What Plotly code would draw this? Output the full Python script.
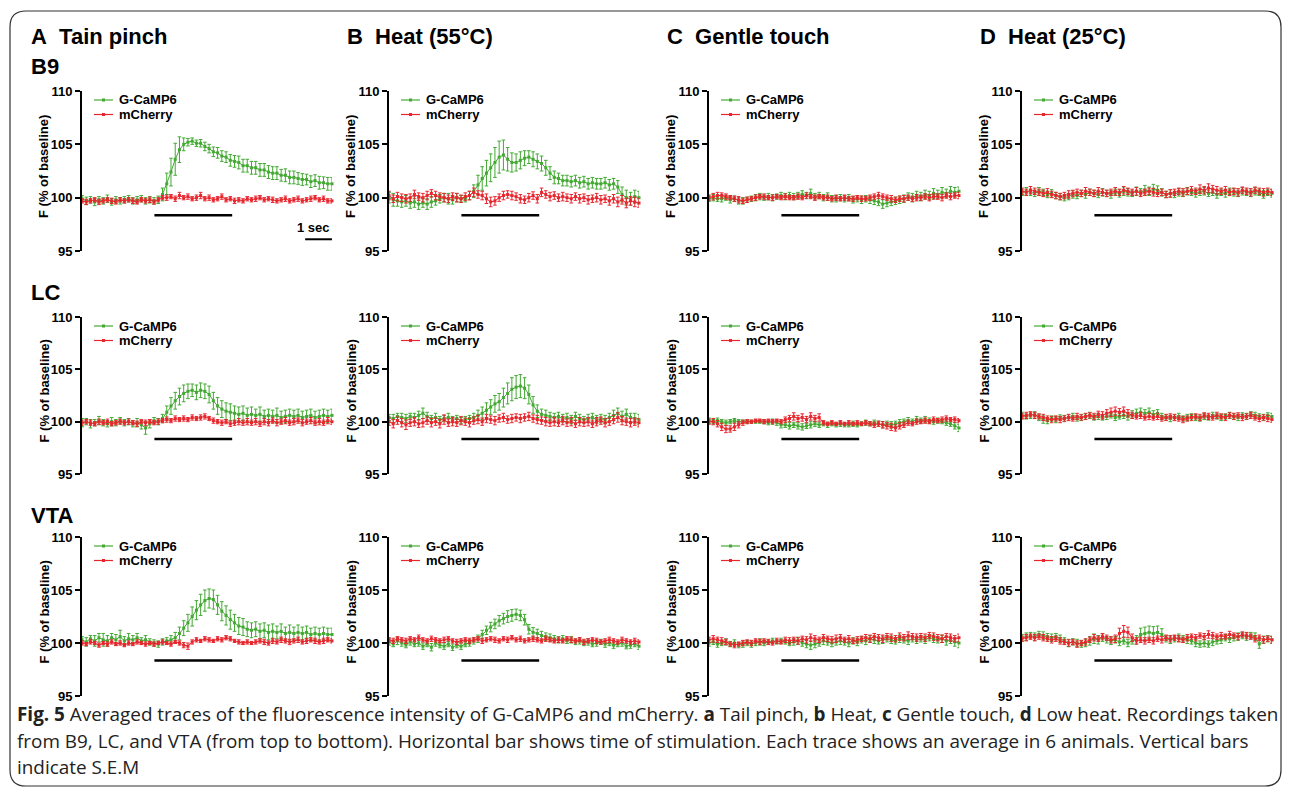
import plotly.graph_objects as go

# Page is 1290x799; the default 8px body margin surrounds the figure.
PAGE_W, PAGE_H, BODY_MARGIN = 1290, 799, 8
W, H = PAGE_W - 2 * BODY_MARGIN, PAGE_H - 2 * BODY_MARGIN

N = 60
DT = 0.158  # seconds per sample
TIME = [round(i * DT, 3) for i in range(N)]
STIM_ON, STIM_OFF, STIM_LEVEL = 2.7, 5.6, 98.35
SCALE_X0, SCALE_X1, SCALE_LEVEL = 8.32, 9.32, 96.1

LETTERS = ["A", "B", "C", "D"]
STIMULI = ["Tain pinch", "Heat (55°C)", "Gentle touch", "Heat (25°C)"]
REGIONS = ["B9", "LC", "VTA"]
Y_TICKS = [95, 100, 105, 110]
SERIES = ["G-CaMP6", "mCherry"]

# ---------------- B9 ----------------
B9_TAIL_G = [99.9, 99.7, 99.8, 99.6, 99.8, 99.7, 99.9, 99.6, 99.8, 99.7,
             99.8, 99.9, 99.7, 99.8, 99.9, 99.7, 99.8, 99.7, 99.8, 100.3,
             101.3, 102.4, 103.6, 104.5, 105.0, 105.2, 105.3, 105.1, 105.1, 104.8,
             104.6, 104.3, 104.2, 103.9, 103.8, 103.5, 103.4, 103.3, 103.0, 103.0,
             102.8, 102.8, 102.6, 102.6, 102.4, 102.3, 102.3, 102.1, 102.1, 101.9,
             101.9, 101.8, 101.7, 101.7, 101.5, 101.6, 101.4, 101.4, 101.3, 101.3]
B9_TAIL_G_SEM = [0.30, 0.35, 0.30, 0.35, 0.30, 0.30, 0.35, 0.30, 0.30, 0.30,
                 0.30, 0.30, 0.30, 0.30, 0.30, 0.30, 0.30, 0.30, 0.35, 0.60,
                 1.00, 1.30, 1.50, 1.20, 0.60, 0.35, 0.30, 0.30, 0.35, 0.40,
                 0.40, 0.45, 0.50, 0.50, 0.50, 0.55, 0.55, 0.60, 0.60, 0.60,
                 0.60, 0.60, 0.60, 0.60, 0.60, 0.60, 0.60, 0.55, 0.60, 0.60,
                 0.60, 0.55, 0.55, 0.50, 0.55, 0.55, 0.60, 0.55, 0.60, 0.60]
B9_TAIL_R = [99.7, 99.6, 99.7, 99.8, 99.6, 99.7, 99.8, 99.7, 99.6, 99.8,
             99.7, 99.8, 99.7, 99.6, 99.8, 99.7, 99.8, 99.6, 99.8, 100.0,
             100.0, 100.1, 99.9, 100.2, 100.0, 100.1, 99.9, 100.0, 100.2, 99.9,
             100.0, 99.8, 99.9, 100.1, 99.8, 99.9, 99.7, 99.8, 99.7, 99.9,
             99.8, 99.9, 100.0, 99.8, 99.9, 99.8, 99.7, 99.8, 99.9, 99.7,
             99.8, 99.9, 99.7, 99.8, 99.9, 100.0, 99.8, 99.9, 99.7, 99.7]
B9_TAIL_R_SEM = [0.20, 0.25, 0.20, 0.20, 0.25, 0.20, 0.20, 0.25, 0.20, 0.20,
                 0.20, 0.20, 0.25, 0.20, 0.20, 0.20, 0.25, 0.20, 0.20, 0.20,
                 0.25, 0.20, 0.25, 0.30, 0.20, 0.25, 0.20, 0.25, 0.30, 0.20,
                 0.25, 0.20, 0.20, 0.25, 0.20, 0.20, 0.25, 0.20, 0.20, 0.20,
                 0.20, 0.25, 0.20, 0.20, 0.20, 0.25, 0.20, 0.20, 0.25, 0.20,
                 0.20, 0.25, 0.20, 0.20, 0.25, 0.20, 0.20, 0.25, 0.20, 0.20]

B9_HEAT55_G = [100.0, 99.8, 99.7, 99.6, 99.7, 99.5, 99.6, 99.4, 99.5, 99.4,
               99.6, 99.7, 99.9, 100.0, 99.9, 99.8, 100.0, 99.9, 99.9, 100.2,
               100.6, 101.2, 101.8, 102.3, 102.8, 103.3, 103.8, 104.0, 103.6, 103.3,
               103.3, 103.5, 103.7, 103.8, 103.6, 103.4, 103.2, 102.8, 102.3, 101.9,
               101.8, 101.6, 101.6, 101.5, 101.6, 101.4, 101.5, 101.3, 101.4, 101.3,
               101.3, 101.4, 101.2, 101.3, 101.0, 100.3, 100.0, 99.9, 100.1, 100.0]
B9_HEAT55_G_SEM = [0.5, 0.6, 0.5, 0.5, 0.5, 0.5, 0.5, 0.5, 0.4, 0.5,
                   0.5, 0.4, 0.4, 0.4, 0.5, 0.4, 0.4, 0.3, 0.3, 0.4,
                   0.6, 0.9, 1.1, 1.2, 1.3, 1.4, 1.5, 1.4, 1.1, 0.9,
                   0.8, 0.8, 0.7, 0.6, 0.7, 0.7, 0.7, 0.7, 0.6, 0.6,
                   0.5, 0.5, 0.5, 0.5, 0.5, 0.5, 0.5, 0.5, 0.5, 0.5,
                   0.5, 0.5, 0.5, 0.5, 0.6, 0.7, 0.7, 0.6, 0.6, 0.6]
B9_HEAT55_R = [100.2, 99.9, 100.1, 100.0, 99.9, 100.0, 100.3, 100.1, 100.0, 100.2,
               100.4, 100.2, 100.1, 100.0, 99.9, 100.1, 100.0, 99.9, 100.1, 100.2,
               100.5, 100.3, 100.2, 99.9, 99.6, 99.7, 100.0, 100.2, 100.3, 100.2,
               100.1, 99.9, 99.8, 100.0, 100.2, 99.9, 100.5, 100.3, 100.1, 100.2,
               100.0, 100.1, 100.0, 99.9, 100.1, 99.9, 100.0, 99.8, 99.9, 100.0,
               99.8, 99.9, 99.7, 99.9, 99.6, 99.8, 99.5, 99.7, 99.6, 99.5]
B9_HEAT55_R_SEM = [0.40, 0.35, 0.40, 0.35, 0.40, 0.35, 0.40, 0.35, 0.40, 0.40,
                   0.35, 0.40, 0.35, 0.40, 0.35, 0.35, 0.40, 0.35, 0.35, 0.40,
                   0.40, 0.35, 0.40, 0.45, 0.45, 0.40, 0.35, 0.40, 0.35, 0.40,
                   0.35, 0.40, 0.35, 0.40, 0.35, 0.40, 0.40, 0.35, 0.40, 0.35,
                   0.35, 0.40, 0.35, 0.40, 0.35, 0.40, 0.35, 0.40, 0.35, 0.40,
                   0.40, 0.35, 0.40, 0.40, 0.45, 0.40, 0.45, 0.40, 0.45, 0.40]

B9_TOUCH_G = [99.9, 100.0, 99.9, 99.9, 100.0, 99.8, 99.9, 99.7, 99.7, 99.8,
              99.9, 100.0, 100.1, 100.0, 100.1, 100.0, 100.1, 100.2, 100.1, 100.2,
              100.1, 100.2, 100.3, 100.2, 100.4, 100.1, 100.2, 100.0, 100.1, 99.9,
              99.9, 100.0, 99.9, 100.0, 99.8, 99.9, 99.8, 99.9, 99.8, 99.7,
              99.6, 99.4, 99.5, 99.6, 99.7, 99.8, 99.9, 100.1, 100.0, 100.2,
              100.1, 100.3, 100.2, 100.4, 100.3, 100.5, 100.4, 100.6, 100.5, 100.6]
B9_TOUCH_G_SEM = [0.25, 0.30, 0.25, 0.30, 0.25, 0.30, 0.25, 0.30, 0.30, 0.25,
                  0.25, 0.30, 0.30, 0.25, 0.30, 0.30, 0.25, 0.30, 0.30, 0.30,
                  0.30, 0.30, 0.35, 0.30, 0.40, 0.30, 0.30, 0.30, 0.35, 0.30,
                  0.30, 0.30, 0.30, 0.30, 0.30, 0.30, 0.35, 0.30, 0.35, 0.35,
                  0.35, 0.40, 0.35, 0.35, 0.35, 0.35, 0.35, 0.35, 0.40, 0.40,
                  0.40, 0.40, 0.40, 0.45, 0.40, 0.45, 0.40, 0.45, 0.45, 0.40]
B9_TOUCH_R = [100.0, 100.1, 100.2, 100.2, 100.1, 100.0, 99.9, 99.8, 99.7, 99.8,
              99.9, 100.0, 100.1, 100.1, 100.0, 100.0, 100.1, 100.0, 100.1, 100.0,
              100.0, 100.1, 100.0, 100.2, 100.1, 100.0, 100.1, 100.0, 100.0, 99.9,
              100.0, 99.9, 100.0, 99.9, 99.9, 100.0, 99.9, 99.9, 100.0, 100.1,
              100.2, 100.1, 100.0, 99.9, 99.8, 99.9, 99.9, 100.0, 99.9, 100.0,
              100.0, 100.1, 100.0, 100.1, 100.1, 100.0, 100.2, 100.1, 100.2, 100.2]
B9_TOUCH_R_SEM = [0.25, 0.30, 0.30, 0.25, 0.25, 0.20, 0.25, 0.30, 0.25, 0.25,
                  0.20, 0.25, 0.20, 0.25, 0.20, 0.25, 0.20, 0.20, 0.25, 0.20,
                  0.20, 0.25, 0.20, 0.25, 0.20, 0.25, 0.20, 0.20, 0.25, 0.20,
                  0.25, 0.20, 0.25, 0.20, 0.25, 0.20, 0.25, 0.20, 0.25, 0.25,
                  0.30, 0.25, 0.25, 0.30, 0.25, 0.25, 0.30, 0.25, 0.25, 0.30,
                  0.25, 0.25, 0.30, 0.25, 0.25, 0.30, 0.25, 0.30, 0.25, 0.30]

B9_HEAT25_G = [100.5, 100.6, 100.5, 100.4, 100.6, 100.5, 100.3, 100.4, 100.2, 100.1,
               100.0, 100.1, 100.3, 100.2, 100.4, 100.3, 100.5, 100.4, 100.3, 100.5,
               100.4, 100.3, 100.5, 100.4, 100.6, 100.5, 100.4, 100.6, 100.5, 100.7,
               100.6, 100.8, 100.7, 100.5, 100.3, 100.4, 100.3, 100.5, 100.4, 100.6,
               100.5, 100.4, 100.5, 100.6, 100.4, 100.5, 100.3, 100.5, 100.4, 100.6,
               100.5, 100.4, 100.6, 100.5, 100.4, 100.6, 100.5, 100.3, 100.5, 100.4]
B9_HEAT25_G_SEM = [0.30, 0.35, 0.30, 0.30, 0.35, 0.30, 0.30, 0.35, 0.30, 0.30,
                   0.30, 0.30, 0.35, 0.30, 0.30, 0.35, 0.30, 0.30, 0.30, 0.35,
                   0.30, 0.35, 0.30, 0.35, 0.40, 0.35, 0.30, 0.40, 0.35, 0.45,
                   0.40, 0.45, 0.40, 0.35, 0.30, 0.35, 0.30, 0.35, 0.30, 0.35,
                   0.30, 0.35, 0.30, 0.35, 0.30, 0.30, 0.35, 0.30, 0.35, 0.30,
                   0.35, 0.30, 0.35, 0.30, 0.30, 0.35, 0.30, 0.35, 0.30, 0.35]
B9_HEAT25_R = [100.6, 100.5, 100.7, 100.6, 100.5, 100.4, 100.5, 100.3, 100.2, 100.1,
               100.2, 100.3, 100.4, 100.5, 100.4, 100.6, 100.5, 100.4, 100.6, 100.5,
               100.4, 100.5, 100.6, 100.5, 100.7, 100.6, 100.5, 100.6, 100.4, 100.5,
               100.6, 100.5, 100.4, 100.5, 100.3, 100.4, 100.5, 100.6, 100.5, 100.6,
               100.7, 100.6, 100.8, 100.7, 100.9, 100.8, 100.7, 100.6, 100.7, 100.5,
               100.6, 100.5, 100.7, 100.6, 100.5, 100.7, 100.6, 100.5, 100.6, 100.5]
B9_HEAT25_R_SEM = [0.30, 0.30, 0.35, 0.30, 0.30, 0.30, 0.35, 0.30, 0.30, 0.30,
                   0.30, 0.35, 0.30, 0.30, 0.30, 0.35, 0.30, 0.30, 0.35, 0.30,
                   0.30, 0.30, 0.35, 0.30, 0.35, 0.30, 0.30, 0.35, 0.30, 0.30,
                   0.30, 0.35, 0.30, 0.30, 0.30, 0.35, 0.30, 0.30, 0.35, 0.30,
                   0.35, 0.30, 0.40, 0.35, 0.40, 0.35, 0.35, 0.30, 0.35, 0.30,
                   0.30, 0.35, 0.30, 0.30, 0.35, 0.30, 0.30, 0.35, 0.30, 0.30]

# ---------------- LC ----------------
LC_TAIL_G = [99.9, 100.0, 99.8, 99.9, 100.1, 99.9, 99.8, 100.0, 99.9, 100.1,
             99.9, 100.0, 99.8, 99.9, 99.7, 99.4, 99.8, 100.1, 100.0, 100.3,
             100.9, 101.5, 102.0, 102.4, 102.7, 102.9, 103.0, 102.8, 103.0, 102.9,
             102.6, 102.0, 101.5, 101.2, 101.0, 100.9, 100.8, 100.7, 100.8, 100.6,
             100.7, 100.6, 100.7, 100.5, 100.6, 100.5, 100.6, 100.4, 100.5, 100.6,
             100.5, 100.6, 100.4, 100.5, 100.6, 100.4, 100.5, 100.6, 100.5, 100.6]
LC_TAIL_G_SEM = [0.4, 0.3, 0.4, 0.3, 0.4, 0.3, 0.3, 0.4, 0.3, 0.3,
                 0.3, 0.3, 0.3, 0.4, 0.4, 0.6, 0.4, 0.3, 0.3, 0.4,
                 0.6, 0.8, 0.8, 0.8, 0.8, 0.7, 0.6, 0.7, 0.7, 0.7,
                 0.8, 0.8, 0.8, 0.8, 0.8, 0.8, 0.7, 0.7, 0.7, 0.7,
                 0.7, 0.6, 0.7, 0.6, 0.6, 0.6, 0.7, 0.6, 0.6, 0.6,
                 0.6, 0.6, 0.6, 0.6, 0.6, 0.6, 0.6, 0.6, 0.6, 0.6]
LC_TAIL_R = [99.9, 100.0, 99.9, 99.8, 100.0, 99.9, 100.0, 99.8, 99.9, 100.0,
             99.9, 100.0, 99.9, 99.8, 100.0, 99.9, 100.0, 99.9, 100.0, 100.1,
             100.2, 100.1, 100.3, 100.2, 100.3, 100.2, 100.4, 100.3, 100.4, 100.5,
             100.3, 100.1, 100.0, 99.9, 100.0, 99.8, 99.9, 100.0, 99.9, 100.0,
             99.9, 100.0, 99.8, 100.0, 99.9, 100.1, 99.9, 100.0, 100.1, 99.9,
             100.0, 100.1, 99.9, 100.0, 100.1, 99.9, 100.0, 99.9, 100.1, 100.0]
LC_TAIL_R_SEM = [0.25, 0.20, 0.25, 0.20, 0.25, 0.20, 0.25, 0.20, 0.20, 0.25,
                 0.20, 0.25, 0.20, 0.25, 0.20, 0.25, 0.20, 0.20, 0.25, 0.20,
                 0.25, 0.20, 0.25, 0.20, 0.25, 0.20, 0.25, 0.20, 0.25, 0.25,
                 0.20, 0.25, 0.20, 0.25, 0.20, 0.25, 0.25, 0.30, 0.25, 0.30,
                 0.25, 0.30, 0.25, 0.30, 0.30, 0.25, 0.30, 0.25, 0.30, 0.25,
                 0.30, 0.25, 0.30, 0.25, 0.30, 0.25, 0.30, 0.25, 0.30, 0.25]

LC_HEAT55_G = [100.4, 100.3, 100.5, 100.4, 100.3, 100.5, 100.4, 100.6, 100.8, 100.5,
               100.3, 100.4, 100.2, 100.3, 100.4, 100.2, 100.3, 100.1, 100.2, 100.3,
               100.4, 100.6, 100.8, 101.1, 101.4, 101.7, 101.9, 102.3, 102.7, 103.1,
               103.3, 103.4, 103.2, 102.6, 101.6, 101.0, 100.7, 100.6, 100.5, 100.4,
               100.5, 100.3, 100.4, 100.2, 100.5, 100.3, 100.2, 100.3, 100.4, 100.2,
               100.3, 100.2, 100.4, 100.6, 100.8, 100.5, 100.7, 100.4, 100.3, 100.2]
LC_HEAT55_G_SEM = [0.3, 0.4, 0.3, 0.4, 0.4, 0.3, 0.4, 0.4, 0.5, 0.4,
                   0.3, 0.4, 0.3, 0.3, 0.4, 0.3, 0.3, 0.3, 0.3, 0.3,
                   0.4, 0.5, 0.6, 0.7, 0.7, 0.8, 0.8, 0.9, 1.0, 1.1,
                   1.1, 1.1, 1.0, 0.9, 0.8, 0.6, 0.5, 0.5, 0.4, 0.4,
                   0.4, 0.4, 0.4, 0.4, 0.4, 0.4, 0.3, 0.4, 0.4, 0.4,
                   0.4, 0.4, 0.4, 0.5, 0.5, 0.5, 0.5, 0.4, 0.5, 0.5]
LC_HEAT55_R = [100.0, 99.8, 100.1, 99.9, 99.7, 99.9, 100.0, 99.8, 99.9, 100.1,
               99.9, 100.0, 99.8, 100.2, 99.9, 100.0, 99.9, 100.1, 100.0, 99.9,
               100.1, 100.2, 100.0, 100.3, 100.2, 100.1, 100.3, 100.4, 100.2, 100.3,
               100.4, 100.3, 100.4, 100.5, 100.3, 100.2, 100.1, 100.0, 99.9, 100.0,
               99.9, 100.1, 99.9, 100.0, 99.8, 100.0, 99.9, 100.0, 99.8, 100.0,
               100.1, 99.9, 100.0, 100.2, 100.4, 100.1, 100.0, 99.9, 100.0, 99.9]
LC_HEAT55_R_SEM = [0.35, 0.40, 0.35, 0.40, 0.45, 0.35, 0.40, 0.35, 0.40, 0.35,
                   0.40, 0.35, 0.40, 0.45, 0.35, 0.40, 0.35, 0.40, 0.35, 0.40,
                   0.35, 0.40, 0.35, 0.40, 0.35, 0.40, 0.35, 0.40, 0.35, 0.40,
                   0.35, 0.40, 0.35, 0.40, 0.35, 0.40, 0.35, 0.40, 0.35, 0.40,
                   0.35, 0.40, 0.35, 0.40, 0.35, 0.40, 0.35, 0.40, 0.35, 0.40,
                   0.35, 0.40, 0.35, 0.40, 0.45, 0.40, 0.35, 0.40, 0.35, 0.40]

LC_TOUCH_G = [100.1, 100.0, 100.1, 100.0, 99.9, 100.0, 100.1, 100.0, 100.0, 100.0,
              100.0, 100.0, 100.0, 100.0, 99.9, 100.0, 99.9, 99.7, 99.7, 99.6,
              99.7, 99.6, 99.5, 99.6, 99.7, 99.8, 99.7, 99.8, 99.7, 99.8,
              99.7, 99.8, 99.7, 99.7, 99.8, 99.7, 99.8, 99.9, 99.8, 99.9,
              99.8, 99.7, 99.8, 99.7, 99.8, 99.9, 100.0, 100.1, 100.0, 100.2,
              100.1, 100.2, 100.1, 100.0, 100.1, 100.0, 99.9, 99.8, 99.6, 99.4]
LC_TOUCH_G_SEM = [0.25, 0.20, 0.25, 0.20, 0.25, 0.20, 0.20, 0.20, 0.15, 0.15,
                  0.15, 0.15, 0.15, 0.20, 0.20, 0.25, 0.25, 0.30, 0.25, 0.30,
                  0.25, 0.30, 0.30, 0.25, 0.30, 0.25, 0.25, 0.20, 0.25, 0.20,
                  0.20, 0.25, 0.20, 0.20, 0.25, 0.20, 0.20, 0.25, 0.20, 0.25,
                  0.25, 0.30, 0.25, 0.30, 0.25, 0.30, 0.25, 0.30, 0.25, 0.30,
                  0.25, 0.30, 0.25, 0.25, 0.25, 0.20, 0.25, 0.25, 0.30, 0.35]
LC_TOUCH_R = [100.0, 100.0, 99.8, 99.5, 99.3, 99.3, 99.5, 99.7, 99.9, 100.0,
              100.0, 100.1, 100.1, 100.0, 100.1, 100.0, 100.1, 100.0, 100.2, 100.3,
              100.5, 100.3, 100.4, 100.2, 100.5, 100.3, 100.4, 99.9, 99.8, 99.9,
              99.8, 99.9, 99.8, 99.9, 99.8, 99.9, 99.8, 99.9, 99.8, 99.7,
              99.8, 99.7, 99.6, 99.5, 99.4, 99.6, 99.7, 99.9, 99.8, 100.0,
              100.0, 100.1, 100.0, 100.2, 100.1, 100.2, 100.3, 100.2, 100.2, 100.1]
LC_TOUCH_R_SEM = [0.25, 0.30, 0.30, 0.35, 0.35, 0.30, 0.35, 0.30, 0.25, 0.20,
                  0.15, 0.15, 0.15, 0.20, 0.15, 0.20, 0.15, 0.20, 0.25, 0.30,
                  0.35, 0.30, 0.35, 0.30, 0.35, 0.30, 0.35, 0.20, 0.15, 0.20,
                  0.15, 0.20, 0.15, 0.20, 0.15, 0.20, 0.15, 0.20, 0.20, 0.25,
                  0.25, 0.30, 0.30, 0.35, 0.30, 0.30, 0.25, 0.25, 0.20, 0.25,
                  0.20, 0.25, 0.20, 0.25, 0.20, 0.25, 0.25, 0.20, 0.25, 0.20]

LC_HEAT25_G = [100.6, 100.5, 100.6, 100.7, 100.4, 100.2, 100.1, 100.3, 100.2, 100.4,
               100.3, 100.4, 100.5, 100.3, 100.4, 100.5, 100.6, 100.4, 100.5, 100.4,
               100.5, 100.6, 100.4, 100.5, 100.6, 100.5, 100.7, 100.8, 100.9, 100.8,
               100.9, 100.7, 100.8, 100.5, 100.4, 100.3, 100.4, 100.5, 100.3, 100.4,
               100.5, 100.4, 100.3, 100.5, 100.4, 100.6, 100.5, 100.4, 100.5, 100.6,
               100.5, 100.4, 100.6, 100.5, 100.7, 100.6, 100.5, 100.4, 100.6, 100.5]
LC_HEAT25_G_SEM = [0.30, 0.25, 0.30, 0.25, 0.30, 0.35, 0.30, 0.25, 0.30, 0.25,
                   0.30, 0.25, 0.30, 0.25, 0.30, 0.25, 0.30, 0.25, 0.30, 0.25,
                   0.30, 0.25, 0.30, 0.25, 0.30, 0.35, 0.35, 0.40, 0.40, 0.35,
                   0.40, 0.35, 0.35, 0.30, 0.25, 0.30, 0.25, 0.30, 0.25, 0.30,
                   0.25, 0.30, 0.25, 0.30, 0.25, 0.30, 0.25, 0.30, 0.25, 0.30,
                   0.25, 0.30, 0.25, 0.30, 0.25, 0.30, 0.25, 0.30, 0.25, 0.30]
LC_HEAT25_R = [100.5, 100.6, 100.7, 100.6, 100.5, 100.4, 100.3, 100.2, 100.3, 100.2,
               100.3, 100.4, 100.3, 100.5, 100.4, 100.5, 100.6, 100.5, 100.7, 100.6,
               100.8, 100.9, 101.0, 100.9, 101.0, 100.8, 100.6, 100.5, 100.6, 100.4,
               100.5, 100.4, 100.5, 100.3, 100.4, 100.5, 100.4, 100.3, 100.2, 100.3,
               100.4, 100.5, 100.4, 100.6, 100.5, 100.4, 100.6, 100.5, 100.4, 100.6,
               100.5, 100.6, 100.4, 100.5, 100.6, 100.4, 100.3, 100.4, 100.3, 100.2]
LC_HEAT25_R_SEM = [0.25, 0.30, 0.25, 0.30, 0.25, 0.30, 0.25, 0.30, 0.25, 0.30,
                   0.25, 0.30, 0.25, 0.30, 0.25, 0.30, 0.25, 0.30, 0.30, 0.35,
                   0.35, 0.40, 0.40, 0.35, 0.40, 0.35, 0.30, 0.25, 0.30, 0.25,
                   0.30, 0.25, 0.30, 0.25, 0.30, 0.25, 0.30, 0.25, 0.30, 0.25,
                   0.30, 0.25, 0.30, 0.25, 0.30, 0.25, 0.30, 0.25, 0.30, 0.25,
                   0.30, 0.25, 0.30, 0.25, 0.30, 0.25, 0.30, 0.25, 0.30, 0.25]

# ---------------- VTA ----------------
VTA_TAIL_G = [100.3, 100.1, 100.4, 100.2, 100.5, 100.3, 100.2, 100.5, 100.3, 100.6,
              100.2, 100.4, 100.3, 100.5, 100.2, 100.3, 100.1, 100.0, 99.9, 100.1,
              100.2, 100.3, 100.5, 100.9, 101.4, 101.9, 102.5, 103.1, 103.6, 104.0,
              104.2, 104.1, 103.6, 103.0, 102.6, 102.2, 101.9, 101.6, 101.5, 101.3,
              101.2, 101.3, 101.1, 101.2, 101.0, 101.1, 101.0, 101.1, 100.9, 101.0,
              100.9, 101.0, 100.9, 101.0, 100.8, 100.9, 100.8, 100.9, 100.8, 100.8]
VTA_TAIL_G_SEM = [0.3, 0.4, 0.3, 0.5, 0.4, 0.6, 0.5, 0.4, 0.5, 0.6,
                  0.4, 0.5, 0.4, 0.4, 0.3, 0.4, 0.3, 0.3, 0.3, 0.3,
                  0.3, 0.4, 0.5, 0.6, 0.7, 0.8, 0.9, 0.9, 1.0, 1.0,
                  0.9, 0.9, 0.9, 0.9, 0.9, 0.9, 0.8, 0.8, 0.8, 0.7,
                  0.7, 0.7, 0.7, 0.7, 0.7, 0.7, 0.6, 0.7, 0.6, 0.7,
                  0.6, 0.7, 0.6, 0.6, 0.6, 0.6, 0.6, 0.6, 0.6, 0.6]
VTA_TAIL_R = [100.0, 99.9, 100.1, 100.0, 99.8, 100.0, 99.9, 100.1, 99.9, 100.0,
              99.8, 100.0, 99.9, 100.1, 100.0, 99.9, 100.0, 99.9, 100.0, 100.1,
              100.0, 99.9, 100.1, 100.0, 99.8, 99.7, 100.1, 100.3, 100.2, 100.4,
              100.3, 100.2, 100.4, 100.3, 100.5, 100.4, 100.2, 100.1, 100.0, 100.1,
              100.0, 100.1, 100.2, 100.1, 100.0, 100.2, 100.1, 100.3, 100.2, 100.1,
              100.2, 100.3, 100.1, 100.2, 100.3, 100.2, 100.1, 100.2, 100.3, 100.2]
VTA_TAIL_R_SEM = [0.20, 0.15, 0.20, 0.15, 0.20, 0.15, 0.20, 0.20, 0.15, 0.20,
                  0.15, 0.20, 0.15, 0.20, 0.15, 0.20, 0.15, 0.20, 0.15, 0.20,
                  0.15, 0.20, 0.15, 0.20, 0.25, 0.30, 0.20, 0.20, 0.15, 0.20,
                  0.20, 0.15, 0.20, 0.20, 0.20, 0.20, 0.15, 0.20, 0.15, 0.20,
                  0.15, 0.20, 0.20, 0.25, 0.20, 0.25, 0.20, 0.25, 0.20, 0.25,
                  0.20, 0.25, 0.20, 0.25, 0.20, 0.25, 0.20, 0.25, 0.20, 0.20]

VTA_HEAT55_G = [100.1, 99.9, 100.2, 100.0, 99.8, 100.1, 99.9, 100.0, 99.7, 99.9,
                99.6, 100.0, 99.8, 99.7, 99.9, 99.6, 99.8, 99.7, 99.9, 100.0,
                100.2, 100.4, 100.8, 101.2, 101.5, 101.8, 102.1, 102.3, 102.5, 102.6,
                102.7, 102.6, 102.2, 101.3, 101.0, 100.9, 100.7, 100.6, 100.5, 100.4,
                100.3, 100.4, 100.2, 100.3, 100.1, 100.2, 100.0, 100.1, 99.9, 100.0,
                100.1, 99.9, 100.0, 99.8, 99.9, 100.0, 99.7, 99.8, 99.9, 99.7]
VTA_HEAT55_G_SEM = [0.30, 0.25, 0.35, 0.30, 0.25, 0.30, 0.25, 0.30, 0.30, 0.25,
                    0.35, 0.30, 0.25, 0.30, 0.25, 0.30, 0.25, 0.30, 0.25, 0.30,
                    0.30, 0.35, 0.40, 0.40, 0.45, 0.45, 0.50, 0.50, 0.55, 0.55,
                    0.50, 0.50, 0.50, 0.45, 0.45, 0.40, 0.40, 0.35, 0.35, 0.30,
                    0.30, 0.30, 0.25, 0.30, 0.25, 0.30, 0.25, 0.30, 0.25, 0.30,
                    0.25, 0.30, 0.25, 0.30, 0.25, 0.30, 0.25, 0.30, 0.25, 0.30]
VTA_HEAT55_R = [100.3, 100.2, 100.4, 100.3, 100.2, 100.4, 100.3, 100.5, 100.3, 100.2,
                100.4, 100.3, 100.2, 100.3, 100.4, 100.2, 100.1, 100.2, 100.3, 100.2,
                100.3, 100.4, 100.2, 100.3, 100.4, 100.3, 100.2, 100.4, 100.3, 100.5,
                100.3, 100.4, 100.2, 100.3, 100.4, 100.3, 100.2, 100.4, 100.3, 100.2,
                100.3, 100.2, 100.4, 100.3, 100.2, 100.3, 100.1, 100.2, 100.3, 100.2,
                100.1, 100.2, 100.3, 100.2, 100.1, 100.3, 100.2, 100.1, 100.2, 100.1]
VTA_HEAT55_R_SEM = [0.20, 0.25, 0.20, 0.20, 0.25, 0.20, 0.20, 0.25, 0.20, 0.20,
                    0.25, 0.20, 0.20, 0.25, 0.20, 0.20, 0.25, 0.20, 0.20, 0.25,
                    0.20, 0.20, 0.25, 0.20, 0.20, 0.25, 0.20, 0.20, 0.25, 0.20,
                    0.20, 0.25, 0.20, 0.20, 0.25, 0.20, 0.20, 0.25, 0.20, 0.20,
                    0.25, 0.20, 0.20, 0.25, 0.20, 0.20, 0.25, 0.20, 0.20, 0.25,
                    0.20, 0.20, 0.25, 0.20, 0.20, 0.25, 0.20, 0.20, 0.25, 0.20]

VTA_TOUCH_G = [100.0, 100.1, 99.9, 100.0, 100.1, 99.9, 100.0, 99.8, 99.9, 100.0,
               99.9, 100.0, 100.1, 100.0, 100.1, 100.2, 100.1, 100.2, 100.1, 100.0,
               100.1, 100.2, 100.0, 99.9, 99.8, 99.9, 100.0, 100.2, 100.1, 100.0,
               100.1, 100.2, 100.1, 100.0, 100.2, 100.1, 100.3, 100.2, 100.4, 100.3,
               100.2, 100.3, 100.4, 100.3, 100.2, 100.4, 100.3, 100.2, 100.4, 100.3,
               100.4, 100.3, 100.5, 100.4, 100.3, 100.4, 100.2, 100.3, 100.1, 100.0]
VTA_TOUCH_G_SEM = [0.30, 0.25, 0.30, 0.25, 0.30, 0.25, 0.30, 0.25, 0.30, 0.25,
                   0.30, 0.25, 0.30, 0.25, 0.20, 0.25, 0.20, 0.25, 0.20, 0.25,
                   0.30, 0.35, 0.30, 0.35, 0.40, 0.35, 0.30, 0.35, 0.30, 0.35,
                   0.30, 0.35, 0.30, 0.35, 0.30, 0.35, 0.30, 0.35, 0.30, 0.35,
                   0.30, 0.35, 0.30, 0.35, 0.30, 0.35, 0.30, 0.35, 0.30, 0.35,
                   0.30, 0.35, 0.30, 0.35, 0.30, 0.35, 0.40, 0.35, 0.40, 0.45]
VTA_TOUCH_R = [100.3, 100.4, 100.3, 100.2, 100.1, 99.9, 99.8, 99.9, 100.0, 100.1,
               100.0, 100.2, 100.1, 100.2, 100.1, 100.0, 100.2, 100.1, 100.3, 100.2,
               100.3, 100.2, 100.4, 100.3, 100.5, 100.4, 100.3, 100.5, 100.4, 100.3,
               100.4, 100.5, 100.3, 100.4, 100.2, 100.3, 100.4, 100.5, 100.4, 100.6,
               100.5, 100.4, 100.6, 100.5, 100.4, 100.6, 100.5, 100.7, 100.6, 100.5,
               100.6, 100.5, 100.7, 100.6, 100.5, 100.4, 100.6, 100.5, 100.4, 100.5]
VTA_TOUCH_R_SEM = [0.25, 0.30, 0.25, 0.30, 0.25, 0.20, 0.25, 0.20, 0.25, 0.20,
                   0.25, 0.20, 0.25, 0.20, 0.25, 0.20, 0.25, 0.20, 0.25, 0.30,
                   0.25, 0.30, 0.25, 0.30, 0.35, 0.30, 0.25, 0.30, 0.25, 0.30,
                   0.35, 0.30, 0.25, 0.30, 0.25, 0.30, 0.25, 0.30, 0.35, 0.30,
                   0.30, 0.35, 0.30, 0.35, 0.30, 0.35, 0.30, 0.35, 0.30, 0.35,
                   0.30, 0.35, 0.30, 0.35, 0.30, 0.35, 0.30, 0.35, 0.30, 0.35]

VTA_HEAT25_G = [100.5, 100.6, 100.7, 100.6, 100.8, 100.7, 100.6, 100.5, 100.6, 100.4,
                100.2, 100.0, 100.1, 100.0, 99.9, 100.0, 100.2, 100.4, 100.3, 100.5,
                100.3, 100.2, 100.3, 100.1, 100.2, 100.0, 100.2, 100.3, 100.8, 100.9,
                101.0, 100.9, 101.0, 100.8, 100.4, 100.3, 100.4, 100.5, 100.4, 100.3,
                100.2, 100.0, 99.9, 100.0, 99.9, 100.1, 100.2, 100.3, 100.5, 100.4,
                100.5, 100.6, 100.7, 100.6, 100.7, 100.6, 99.9, 100.3, 100.4, 100.3]
VTA_HEAT25_G_SEM = [0.30, 0.35, 0.30, 0.35, 0.30, 0.35, 0.30, 0.35, 0.30, 0.35,
                    0.30, 0.35, 0.30, 0.35, 0.30, 0.35, 0.40, 0.45, 0.40, 0.35,
                    0.30, 0.35, 0.30, 0.35, 0.30, 0.35, 0.30, 0.40, 0.60, 0.60,
                    0.60, 0.65, 0.60, 0.55, 0.30, 0.35, 0.30, 0.35, 0.30, 0.35,
                    0.30, 0.35, 0.30, 0.35, 0.30, 0.35, 0.30, 0.35, 0.30, 0.35,
                    0.30, 0.35, 0.30, 0.35, 0.30, 0.35, 0.40, 0.35, 0.30, 0.35]
VTA_HEAT25_R = [100.4, 100.5, 100.6, 100.5, 100.6, 100.5, 100.4, 100.3, 100.4, 100.2,
                100.1, 100.0, 100.1, 99.9, 100.0, 100.1, 100.3, 100.5, 100.4, 100.6,
                100.5, 100.3, 100.4, 100.9, 101.1, 101.0, 100.5, 100.2, 100.3, 100.2,
                100.3, 100.2, 100.4, 100.3, 100.5, 100.4, 100.5, 100.4, 100.3, 100.5,
                100.6, 100.5, 100.7, 100.6, 100.8, 100.7, 100.6, 100.7, 100.6, 100.8,
                100.7, 100.6, 100.8, 100.7, 100.6, 100.4, 100.5, 100.3, 100.4, 100.3]
VTA_HEAT25_R_SEM = [0.25, 0.30, 0.25, 0.30, 0.25, 0.30, 0.25, 0.30, 0.25, 0.30,
                    0.25, 0.30, 0.25, 0.30, 0.25, 0.30, 0.25, 0.30, 0.25, 0.30,
                    0.25, 0.30, 0.35, 0.50, 0.55, 0.50, 0.35, 0.30, 0.25, 0.30,
                    0.25, 0.30, 0.25, 0.30, 0.25, 0.30, 0.25, 0.30, 0.25, 0.30,
                    0.25, 0.30, 0.25, 0.30, 0.35, 0.30, 0.25, 0.30, 0.25, 0.30,
                    0.25, 0.30, 0.25, 0.30, 0.25, 0.30, 0.25, 0.30, 0.25, 0.30]

PANELS = [  # (row, col, green, green_sem, red, red_sem)
    (0, 0, B9_TAIL_G, B9_TAIL_G_SEM, B9_TAIL_R, B9_TAIL_R_SEM),
    (0, 1, B9_HEAT55_G, B9_HEAT55_G_SEM, B9_HEAT55_R, B9_HEAT55_R_SEM),
    (0, 2, B9_TOUCH_G, B9_TOUCH_G_SEM, B9_TOUCH_R, B9_TOUCH_R_SEM),
    (0, 3, B9_HEAT25_G, B9_HEAT25_G_SEM, B9_HEAT25_R, B9_HEAT25_R_SEM),
    (1, 0, LC_TAIL_G, LC_TAIL_G_SEM, LC_TAIL_R, LC_TAIL_R_SEM),
    (1, 1, LC_HEAT55_G, LC_HEAT55_G_SEM, LC_HEAT55_R, LC_HEAT55_R_SEM),
    (1, 2, LC_TOUCH_G, LC_TOUCH_G_SEM, LC_TOUCH_R, LC_TOUCH_R_SEM),
    (1, 3, LC_HEAT25_G, LC_HEAT25_G_SEM, LC_HEAT25_R, LC_HEAT25_R_SEM),
    (2, 0, VTA_TAIL_G, VTA_TAIL_G_SEM, VTA_TAIL_R, VTA_TAIL_R_SEM),
    (2, 1, VTA_HEAT55_G, VTA_HEAT55_G_SEM, VTA_HEAT55_R, VTA_HEAT55_R_SEM),
    (2, 2, VTA_TOUCH_G, VTA_TOUCH_G_SEM, VTA_TOUCH_R, VTA_TOUCH_R_SEM),
    (2, 3, VTA_HEAT25_G, VTA_HEAT25_G_SEM, VTA_HEAT25_R, VTA_HEAT25_R_SEM),
]
for p in PANELS:
    for arr in p[2:]:
        assert len(arr) == N, len(arr)

# ---------------- layout (page pixels) ----------------
GREEN = "#43A933"
RED = "#E8262E"
COLORS = [GREEN, RED]
COL_LEFT = [82, 389, 709, 1022]
PLOT_W = 250
ROW_Y = [(91, 251), (317, 474), (537, 696)]
TITLE_X = [29, 345, 665, 978]
REGION_Y = [66, 292, 516]
BOLD = "Liberation Sans, Arial, Helvetica, sans-serif"


def px(x):
    """page x pixel -> paper fraction"""
    return (x - BODY_MARGIN) / W


def py(y):
    """page y pixel -> paper fraction"""
    return 1 - (y - BODY_MARGIN) / H


fig = go.Figure()
shapes = []
annotations = []
layout_axes = {}

for k, (row, col, g, gs, r, rs) in enumerate(PANELS, start=1):
    sfx = "" if k == 1 else str(k)
    xa, ya = "x" + sfx, "y" + sfx
    left = COL_LEFT[col]
    top, bottom = ROW_Y[row]
    for name, vals, sem, color in ((SERIES[0], g, gs, GREEN), (SERIES[1], r, rs, RED)):
        fig.add_trace(go.Scatter(
            x=TIME, y=vals, name=name, mode="lines+markers",
            line=dict(color=color, width=1),
            marker=dict(color=color, size=3, symbol="square"),
            error_y=dict(type="data", array=sem, visible=True, color=color,
                         thickness=1, width=1.8),
            xaxis=xa, yaxis=ya, cliponaxis=False, showlegend=False,
            hoverinfo="skip",
        ))
    layout_axes["xaxis" + sfx] = dict(
        domain=[px(left), px(left + PLOT_W)], range=[0, TIME[-1]],
        visible=False, anchor=ya, fixedrange=True, automargin=False)
    layout_axes["yaxis" + sfx] = dict(
        domain=[py(bottom), py(top)], range=[95, 110], anchor=xa,
        tickvals=Y_TICKS, ticktext=[str(t) for t in Y_TICKS],
        showgrid=False, zeroline=False, showline=True, linecolor="black",
        linewidth=2, ticks="outside", ticklen=5, tickwidth=2, tickcolor="black",
        tickfont=dict(family=BOLD, size=13, color="black", weight="bold"),
        fixedrange=True, automargin=False)
    # per-panel key (line sample + square marker + label)
    for i, (name, color) in enumerate(zip(SERIES, COLORS)):
        yy = top + 9 + i * 14.5
        shapes.append(dict(type="line", xref="paper", yref="paper",
                           x0=px(left + 12), x1=px(left + 31), y0=py(yy), y1=py(yy),
                           line=dict(color=color, width=1.2)))
        shapes.append(dict(type="rect", xref="paper", yref="paper",
                           x0=px(left + 20), x1=px(left + 23),
                           y0=py(yy + 1.5), y1=py(yy - 1.5),
                           fillcolor=color, line=dict(width=0)))
        annotations.append(dict(
            text=name, xref="paper", yref="paper", x=px(left + 35), y=py(yy),
            xanchor="left", yanchor="middle", showarrow=False,
            font=dict(family=BOLD, size=13, color="black", weight="bold")))
    # stimulation bar
    shapes.append(dict(type="line", xref=xa, yref=ya, x0=STIM_ON, x1=STIM_OFF,
                       y0=STIM_LEVEL, y1=STIM_LEVEL,
                       line=dict(color="black", width=2.5)))
    # y-axis title
    annotations.append(dict(
        text="F (% of baseline)", textangle=-90, xref="paper", yref="paper",
        x=px(left - 38), y=py((top + bottom) / 2 - 4), xanchor="center",
        yanchor="middle", showarrow=False,
        font=dict(family=BOLD, size=13, color="black", weight="bold")))
    if k == 1:
        shapes.append(dict(type="line", xref=xa, yref=ya, x0=SCALE_X0, x1=SCALE_X1,
                           y0=SCALE_LEVEL, y1=SCALE_LEVEL,
                           line=dict(color="black", width=2)))
        annotations.append(dict(
            text="1 sec", xref=xa, yref=ya, x=SCALE_X1, y=SCALE_LEVEL,
            xanchor="right", yanchor="bottom", yshift=2, showarrow=False,
            font=dict(family=BOLD, size=13, color="black", weight="bold")))

# column titles
for c in range(4):
    annotations.append(dict(
        text=LETTERS[c] + "\u00a0 " + STIMULI[c], xref="paper", yref="paper",
        x=px(TITLE_X[c]), y=py(37), xanchor="left", yanchor="middle",
        showarrow=False,
        font=dict(family=BOLD, size=22, color="black", weight="bold")))
# region labels
for rr in range(3):
    annotations.append(dict(
        text=REGIONS[rr], xref="paper", yref="paper",
        x=px(29), y=py(REGION_Y[rr]), xanchor="left", yanchor="middle",
        showarrow=False,
        font=dict(family=BOLD, size=22, color="black", weight="bold")))

# caption
CAPTION = [
    "<b>Fig. 5</b> Averaged traces of the fluorescence intensity of G-CaMP6 and mCherry. "
    "<b>a</b> Tail pinch, <b>b</b> Heat, <b>c</b> Gentle touch, <b>d</b> Low heat. Recordings taken",
    "from B9, LC, and VTA (from top to bottom). Horizontal bar shows time of stimulation. "
    "Each trace shows an average in 6 animals. Vertical bars",
    "indicate S.E.M",
]
CAPTION_Y = [714, 741, 767]
for line, yy in zip(CAPTION, CAPTION_Y):
    annotations.append(dict(
        text=line, xref="paper", yref="paper", x=px(15), y=py(yy),
        xanchor="left", yanchor="middle", showarrow=False,
        font=dict(family="Open Sans, Noto Sans, sans-serif", size=18.9, color="#222")))

# rounded outer frame
x0, y0, x1, y1, rad = 10, 11, 1281, 786, 16
frame = (f"M {px(x0)} {py(y0 + rad)} "
         f"Q {px(x0)} {py(y0)} {px(x0 + rad)} {py(y0)} "
         f"L {px(x1 - rad)} {py(y0)} "
         f"Q {px(x1)} {py(y0)} {px(x1)} {py(y0 + rad)} "
         f"L {px(x1)} {py(y1 - rad)} "
         f"Q {px(x1)} {py(y1)} {px(x1 - rad)} {py(y1)} "
         f"L {px(x0 + rad)} {py(y1)} "
         f"Q {px(x0)} {py(y1)} {px(x0)} {py(y1 - rad)} Z")
shapes.append(dict(type="path", xref="paper", yref="paper", path=frame,
                   line=dict(color="#333333", width=1.2)))

fig.update_layout(
    template="none",
    width=W, height=H,
    margin=dict(l=0, r=0, t=0, b=0, pad=0, autoexpand=False),
    paper_bgcolor="white", plot_bgcolor="rgba(0,0,0,0)",
    showlegend=False, shapes=shapes, annotations=annotations,
    hovermode=False, **layout_axes,
)

fig.write_html("out.html", config={"displayModeBar": False})
